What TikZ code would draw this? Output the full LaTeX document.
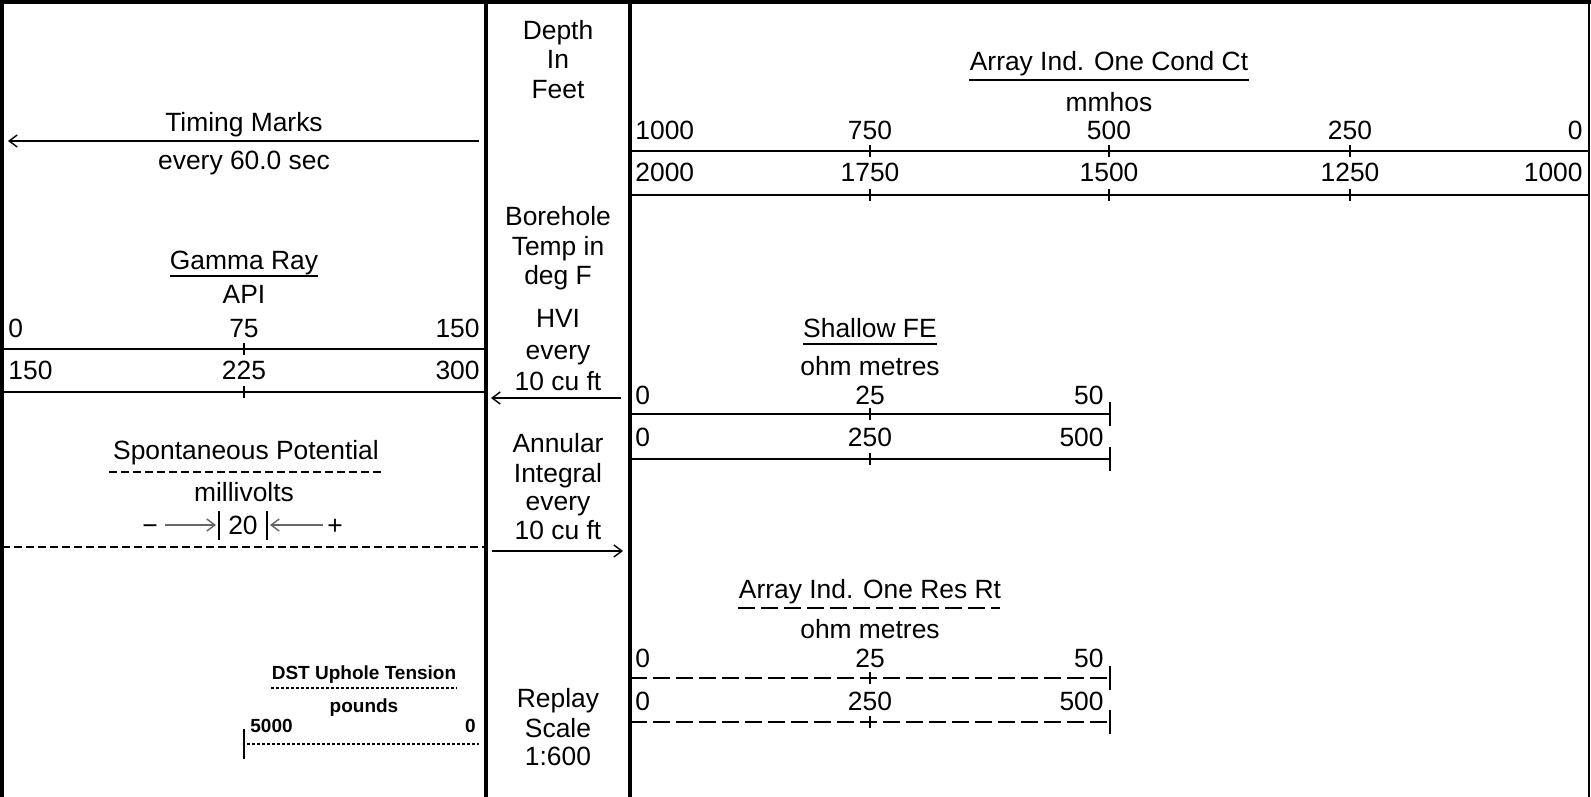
\documentclass[tikz,border=0pt]{standalone}
\usepackage{fontspec}
\setmainfont{Liberation Sans}
\usetikzlibrary{arrows.meta}

\tikzset{
  lbl/.style={inner sep=0pt, text height=9.4pt, text depth=0pt, font=\fontsize{13.2}{15}\selectfont},
  smalllbl/.style={inner sep=0pt, text height=6.8pt, text depth=0pt, font=\fontsize{9.5}{11}\selectfont\bfseries},
  frame/.style={line width=2pt},
  rim/.style={line width=1pt},
  scaleline/.style={line width=1pt},
  tickmark/.style={line width=0.6pt},
  uline/.style={line width=1.3pt},
  spdash/.style={line width=1pt, dash pattern=on 4pt off 2pt},
  resdash/.style={line width=1pt, dash pattern=on 8.5pt off 3pt},
  dstdot/.style={line width=0.6pt, dash pattern=on 1.5pt off 1pt},
  marker/.style={line width=0.7pt, -{Straight Barb[length=4pt,width=6pt]}},
}

\begin{document}
\begin{tikzpicture}[x=0.5pt, y=-0.5pt]
  \useasboundingbox (0,0) rectangle (1591,797);

  % track borders
  \draw[frame] (0,2) -- (1591,2);
  \draw[frame] (2,0) -- (2,797);
  \draw[frame] (486,0) -- (486,797);
  \draw[frame] (630,0) -- (630,797);
  \draw[rim] (1589,2) -- (1589,797);

  % timing marks
  \node[lbl] (tm) at (244,122) {Timing Marks};
  \node[lbl] (tmevery) at (244,160) {every 60.0 sec};
  \coordinate (tmstart) at (479,141);
  \coordinate (tmend) at (8,141);
  \draw[marker] (tmstart) -- (tmend);

  % gamma ray
  \node[lbl] (gr) at (244,260) {Gamma Ray};
  \draw[uline] (gr.west |- 0,276) -- (gr.east |- 0,276);
  \node[lbl] (grunit) at (244,294) {API};
  \node[lbl, anchor=west] (grlo) at (8,328) {0};
  \node[lbl] (grmid) at (244,328) {75};
  \node[lbl, anchor=east] (grhi) at (480,328) {150};
  \draw[scaleline] (2,349) -- (486,349);
  \draw[tickmark] (244,343) -- (244,355);
  \node[lbl, anchor=west] (grlob) at (8,370) {150};
  \node[lbl] (grmidb) at (244,370) {225};
  \node[lbl, anchor=east] (grhib) at (480,370) {300};
  \draw[scaleline] (2,392) -- (486,392);
  \draw[tickmark] (244,386) -- (244,398);

  % spontaneous potential
  \node[lbl] (sp) at (246,450) {Spontaneous Potential};
  \draw[spdash] (109,472) -- (384,472);
  \node[lbl] (spunit) at (244,492) {millivolts};
  \node[lbl] (spminus) at (150,525) {−};
  \node[lbl] (spval) at (243,525) {20};
  \node[lbl] (spplus) at (335,525) {+};
  \draw[tickmark] (219,511) -- (219,540);
  \draw[tickmark] (267,511) -- (267,540);
  \coordinate (spl) at (165,525);
  \coordinate (spr) at (323,525);
  \draw[marker, black!60] (spl) -- (216,525);
  \draw[marker, black!60] (spr) -- (270,525);
  \draw[spdash] (2,547) -- (486,547);

  % dst uphole tension
  \node[smalllbl] (dst) at (364,673) {DST Uphole Tension};
  \draw[dstdot] (dst.west |- 0,688) -- (dst.east |- 0,688);
  \node[smalllbl] (dstunit) at (364,706) {pounds};
  \node[smalllbl, anchor=west] (dstlo) at (250,726) {5000};
  \node[smalllbl, anchor=east] (dsthi) at (476,726) {0};
  \draw[dstdot] (247,744) -- (479,744);
  \draw[tickmark] (244,729) -- (244,759);

  % depth track
  \node[lbl] (depth1) at (558,30) {Depth};
  \node[lbl] (depth2) at (558,59) {In};
  \node[lbl] (depth3) at (558,89) {Feet};
  \node[lbl] (temp1) at (558,216) {Borehole};
  \node[lbl] (temp2) at (558,246) {Temp in};
  \node[lbl] (temp3) at (558,275) {deg F};
  \node[lbl] (hvi1) at (558,318) {HVI};
  \node[lbl] (hvi2) at (558,350) {every};
  \node[lbl] (hvi3) at (558,381) {10 cu ft};
  \coordinate (hvistart) at (621,398);
  \coordinate (hviend) at (491,398);
  \draw[marker] (hvistart) -- (hviend);
  \node[lbl] (ann1) at (558,443) {Annular};
  \node[lbl] (ann2) at (558,473) {Integral};
  \node[lbl] (ann3) at (558,501) {every};
  \node[lbl] (ann4) at (558,530) {10 cu ft};
  \coordinate (annstart) at (492,551);
  \coordinate (annend) at (623,551);
  \draw[marker] (annstart) -- (annend);
  \node[lbl] (rep1) at (558,698) {Replay};
  \node[lbl] (rep2) at (558,728) {Scale};
  \node[lbl] (rep3) at (558,756) {1:600};

  % array induction conductivity
  \node[lbl] (cond) at (1109,61) {Array Ind. One Cond Ct};
  \draw[uline] (cond.west |- 0,80) -- (cond.east |- 0,80);
  \node[lbl] (condunit) at (1109,102) {mmhos};
  \node[lbl, anchor=west] (conda0) at (635,130) {1000};
  \node[lbl] (conda1) at (870,130) {750};
  \node[lbl] (conda2) at (1109,130) {500};
  \node[lbl] (conda3) at (1350,130) {250};
  \node[lbl, anchor=east] (conda4) at (1583,130) {0};
  \draw[scaleline] (630,151) -- (1589,151);
  \draw[tickmark] (870,145) -- (870,157) (1109,145) -- (1109,157) (1350,145) -- (1350,157);
  \node[lbl, anchor=west] (condb0) at (635,172) {2000};
  \node[lbl] (condb1) at (870,172) {1750};
  \node[lbl] (condb2) at (1109,172) {1500};
  \node[lbl] (condb3) at (1350,172) {1250};
  \node[lbl, anchor=east] (condb4) at (1583,172) {1000};
  \draw[scaleline] (630,195) -- (1589,195);
  \draw[tickmark] (870,189) -- (870,201) (1109,189) -- (1109,201) (1350,189) -- (1350,201);

  % shallow fe
  \node[lbl] (sfe) at (870,328) {Shallow FE};
  \draw[uline] (sfe.west |- 0,344) -- (sfe.east |- 0,344);
  \node[lbl] (sfeunit) at (870,366) {ohm metres};
  \node[lbl, anchor=west] (sfea0) at (635,395) {0};
  \node[lbl] (sfea1) at (870,395) {25};
  \node[lbl, anchor=east] (sfea2) at (1104,395) {50};
  \draw[scaleline] (630,414) -- (1110,414);
  \draw[tickmark] (870,408) -- (870,420) (1110,402) -- (1110,426);
  \node[lbl, anchor=west] (sfeb0) at (635,437) {0};
  \node[lbl] (sfeb1) at (870,437) {250};
  \node[lbl, anchor=east] (sfeb2) at (1104,437) {500};
  \draw[scaleline] (630,459) -- (1110,459);
  \draw[tickmark] (870,453) -- (870,465) (1110,447) -- (1110,471);

  % array induction resistivity
  \node[lbl] (res) at (870,589) {Array Ind. One Res Rt};
  \draw[resdash] (738,608) -- (1000,608);
  \node[lbl] (resunit) at (870,629) {ohm metres};
  \node[lbl, anchor=west] (resa0) at (635,658) {0};
  \node[lbl] (resa1) at (870,658) {25};
  \node[lbl, anchor=east] (resa2) at (1104,658) {50};
  \draw[resdash] (630,678) -- (1110,678);
  \draw[tickmark] (870,672) -- (870,684) (1110,666) -- (1110,690);
  \node[lbl, anchor=west] (resb0) at (635,701) {0};
  \node[lbl] (resb1) at (870,701) {250};
  \node[lbl, anchor=east] (resb2) at (1104,701) {500};
  \draw[resdash] (630,722) -- (1110,722);
  \draw[tickmark] (870,716) -- (870,728) (1110,710) -- (1110,734);
\end{tikzpicture}
\end{document}
